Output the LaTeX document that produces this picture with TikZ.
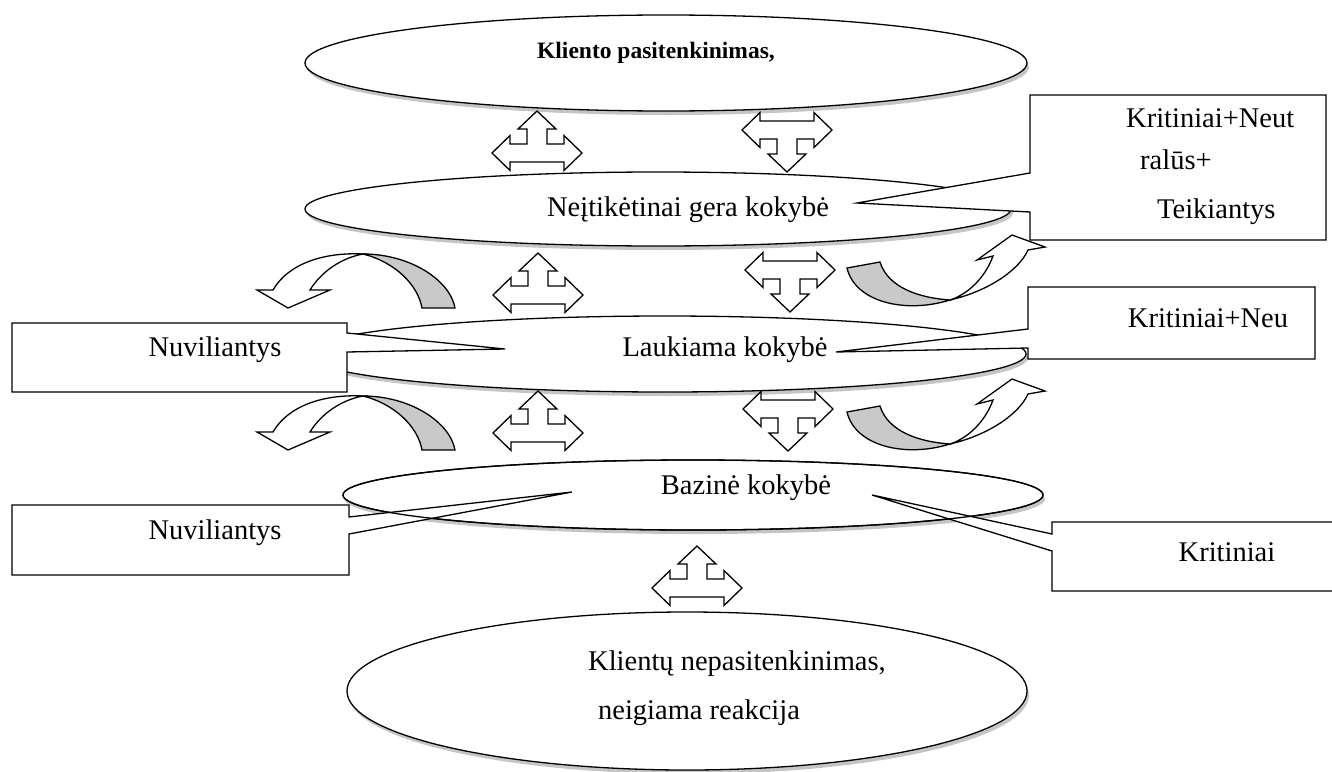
\documentclass[tikz,border=0pt]{standalone}
\usepackage{fontspec}
\setmainfont{Liberation Serif}
\usetikzlibrary{shapes.geometric,shadows}
\tikzset{
  ell/.style={ellipse,draw,line width=1.3pt,fill=white,inner sep=0pt,
    drop shadow={shadow xshift=2pt,shadow yshift=-4pt,fill=black!45}},
  lbl/.style={font=\fontsize{28.5}{34}\selectfont,inner sep=0pt},
  callbox/.style={draw,line width=1.3pt,fill=white,line join=miter},
  blk/.style={draw,line width=1.3pt,fill=white,line join=miter},
  twistw/.style={draw,line width=1.3pt,fill=white},
  twistg/.style={draw,line width=1.3pt,fill=black!21},
  pics/lru/.style={code={
    \draw[blk] (-45,0) -- (-27,-17.5) -- (-27,-9) -- (-10,-9) -- (-10,-24) -- (-19,-24)
      -- (0,-42) -- (19,-24) -- (10,-24) -- (10,-9) -- (27,-9) -- (27,-17.5) -- (45,0)
      -- (27,17.5) -- (27,9) -- (-27,9) -- (-27,17.5) -- cycle;}},
  pics/lrd/.style={code={
    \draw[blk] (-45,0) -- (-27,17.5) -- (-27,9) -- (-10,9) -- (-10,24) -- (-19,24)
      -- (0,42) -- (19,24) -- (10,24) -- (10,9) -- (27,9) -- (27,17.5) -- (45,0)
      -- (27,-17.5) -- (27,-9) -- (-27,-9) -- (-27,-17.5) -- cycle;}},
  pics/curvleft/.style={code={
    \draw[twistg] (0,0) .. controls (47,0) and (87,26) .. (92,54) -- (59,54)
      .. controls (55,31) and (32,8) .. (0,0) -- cycle;
    \draw[twistw] (0,0) .. controls (-40,-2) and (-75,10) .. (-90,36) -- (-106,36)
      -- (-75,54) -- (-33,36) -- (-53,36) .. controls (-42,18) and (-22,4) .. (0,0) -- cycle;}},
  pics/curvright/.style={code={
    \draw[twistg] (0,0) .. controls (-45,14) and (-95,2) .. (-103,-32) -- (-70,-38)
      .. controls (-62,-12) and (-30,-2) .. (0,0) -- cycle;
    \draw[twistw] (0,0) .. controls (35,-8) and (68,-28) .. (78,-50) -- (95,-53)
      -- (62,-65) -- (27,-40) -- (43,-44) .. controls (35,-22) and (18,-6) .. (0,0) -- cycle;}},
}
\begin{document}
\begin{tikzpicture}[x=1pt,y=-1pt]
\useasboundingbox (0,0) rectangle (1332,771);

% ellipses
\node[ell,minimum width=722pt,minimum height=96pt] (e1) at (666,63) {};
\node[ell,minimum width=706pt,minimum height=74pt] (e2) at (658,209) {};
\node[ell,minimum width=722pt,minimum height=76pt] (e3) at (665,354) {};
\node[ell,minimum width=700pt,minimum height=70pt] (e4) at (693,495) {};
\node[ell,minimum width=680pt,minimum height=158pt] (e5) at (687,691) {};

% block arrows
\pic (a1) at (537,153) {lru};
\pic (b1) at (787,130) {lrd};
\pic (a2) at (538,295) {lru};
\pic (b2) at (790,270) {lrd};
\pic (a3) at (538,433) {lru};
\pic (b3) at (788,409) {lrd};
\pic (a4) at (697,588) {lru};

% curved arrows
\pic (cl1) at (363,254) {curvleft};
\pic (cl2) at (363,396) {curvleft};
\pic (cr1) at (950,300) {curvright};
\pic (cr2) at (950,444) {curvright};

% callouts
\draw[callbox] (1030,95) -- (1326,95) -- (1326,240) -- (1030,240) -- (1030,212)
  -- (857,203) -- (1030,173) -- cycle;
\draw[callbox] (1028,287) -- (1315,287) -- (1315,359) -- (1028,359) -- (1028,348)
  -- (836,352) -- (1028,329) -- cycle;
\draw[callbox] (12,323) -- (347,323) -- (347,333) -- (505,349) -- (347,352)
  -- (347,392) -- (12,392) -- cycle;
\draw[callbox] (12,505) -- (349,505) -- (349,517) -- (572,492) -- (349,534)
  -- (349,575) -- (12,575) -- cycle;
\draw[callbox] (1052,522) -- (1336,522) -- (1336,591) -- (1052,591) -- (1052,551)
  -- (872,495) -- (1052,534) -- cycle;
\draw[line width=1.3pt] (e4.center) ellipse [x radius=350, y radius=35];

% texts
\node[lbl,font=\fontsize{23.5}{28}\selectfont\bfseries] (t1) at (656,53) {Kliento pasitenkinimas,};
\node[lbl] (t2) at (688,210) {Neįtikėtinai gera kokybė};
\node[lbl] (t3) at (725,350) {Laukiama kokybė};
\node[lbl] (t4) at (746,488) {Bazinė kokybė};
\node[lbl] (t5) at (737,664) {Klientų nepasitenkinimas,};
\node[lbl] (t6) at (699,713) {neigiama reakcija};
\node[lbl,anchor=west] (k1) at (1126,118) {Kritiniai+Neut};
\node[lbl,anchor=west] (k2) at (1140,160) {ralūs+};
\node[lbl,anchor=west] (k3) at (1157,212) {Teikiantys};
\node[lbl] (k4) at (1208,318) {Kritiniai+Neu};
\node[lbl] (n1) at (215,350) {Nuviliantys};
\node[lbl] (n2) at (215,533) {Nuviliantys};
\node[lbl] (k5) at (1227,552) {Kritiniai};
\end{tikzpicture}
\end{document}
